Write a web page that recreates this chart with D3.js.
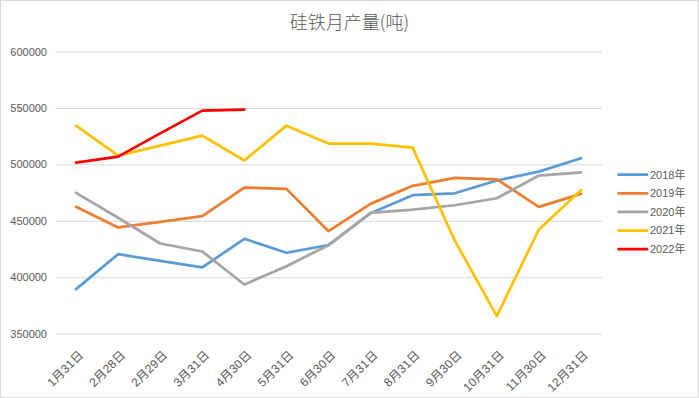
<!DOCTYPE html>
<html>
<head>
<meta charset="utf-8">
<script src="https://cdn.jsdelivr.net/npm/d3@7"></script>
<style>
html,body{margin:0;padding:0;background:#fff;}
svg{display:block;}
text{font-family:"Liberation Sans","Noto Sans CJK SC",sans-serif;}
</style>
</head>
<body>
<svg id="chart" width="699" height="398"></svg>
<script>
const title = "硅铁月产量(吨)";
const categories = ["1月31日","2月28日","2月29日","3月31日","4月30日","5月31日","6月30日","7月31日","8月31日","9月30日","10月31日","11月30日","12月31日"];
const yTicks = [350000,400000,450000,500000,550000,600000];
const seriesNames = ["2018年","2019年","2020年","2021年","2022年"];
const seriesColors = ["#5B9BD5","#ED7D31","#A5A5A5","#FFC000","#FF0000"];
const s2018 = [389500,420400,414600,408700,434100,421700,428400,456700,472700,474400,485700,493600,505400];
const s2019 = [462400,444100,449100,454100,479500,478300,440800,465000,481000,488000,486800,462400,473900];
const s2020 = [474800,452700,429900,422800,393600,409800,428400,457100,460000,463800,470000,490100,493000];
const s2021 = [534300,507800,516600,525500,503400,534300,518400,518400,514800,432600,365600,442300,477100];
const s2022 = [501600,506900,527500,547600,548500];
const seriesValues = [s2018,s2019,s2020,s2021,s2022];

const svg = d3.select("#chart");
const W = 699, H = 398;
const plot = {left:55, right:602, top:51.5, bottom:333.7};

svg.append("rect").attr("x",0.5).attr("y",0.5).attr("width",W-1).attr("height",H-1)
  .attr("fill","#fff").attr("stroke","#d9d9d9");

svg.append("text").attr("x",349.5).attr("y",28.5).attr("text-anchor","middle")
  .style("font-family","'Noto Sans CJK SC',sans-serif").style("font-size","18px")
  .style("font-weight","300")
  .attr("fill","#595959").text(title);

const x = d3.scalePoint().domain(categories).range([plot.left, plot.right]).padding(0.5);
const y = d3.scaleLinear().domain([350000,600000]).range([plot.bottom, plot.top]);

const yAxis = d3.axisLeft(y).tickValues(yTicks).tickFormat(d3.format("d"))
  .tickSize(-(plot.right-plot.left)).tickPadding(8);
const gy = svg.append("g").attr("transform",`translate(${plot.left},0)`).call(yAxis);
gy.select(".domain").remove();
gy.selectAll(".tick line").attr("stroke","#d9d9d9").attr("stroke-width",1);
gy.selectAll(".tick text").attr("fill","#595959").style("font-size","11px");

const xAxis = d3.axisBottom(x).tickSize(0).tickPadding(0);
const gx = svg.append("g").attr("transform",`translate(0,${plot.bottom})`).call(xAxis);
gx.select(".domain").remove();
gx.selectAll(".tick text")
  .attr("fill","#595959").style("font-size","12px").style("letter-spacing","0.2px")
  .attr("text-anchor","end")
  .attr("dy","0.35em").attr("y",0)
  .attr("transform","translate(4.5,19) rotate(-45)");

const line = d3.line().x((d,i)=>x(categories[i])).y(d=>y(d));
seriesValues.forEach((vals,k)=>{
  svg.append("path").datum(vals).attr("d",line)
    .attr("fill","none").attr("stroke",seriesColors[k]).attr("stroke-width",2.75)
    .attr("stroke-linejoin","round").attr("stroke-linecap","round");
});

const lg = svg.append("g");
seriesNames.forEach((n,k)=>{
  const ly = 174.7 + k*18.6;
  lg.append("line").attr("x1",618.5).attr("x2",647).attr("y1",ly).attr("y2",ly)
    .attr("stroke",seriesColors[k]).attr("stroke-width",2.75).attr("stroke-linecap","round");
  lg.append("text").attr("x",650).attr("y",ly).attr("dy","0.35em")
    .attr("fill","#595959").style("font-size","11px").text(n);
});
</script>
</body>
</html>
